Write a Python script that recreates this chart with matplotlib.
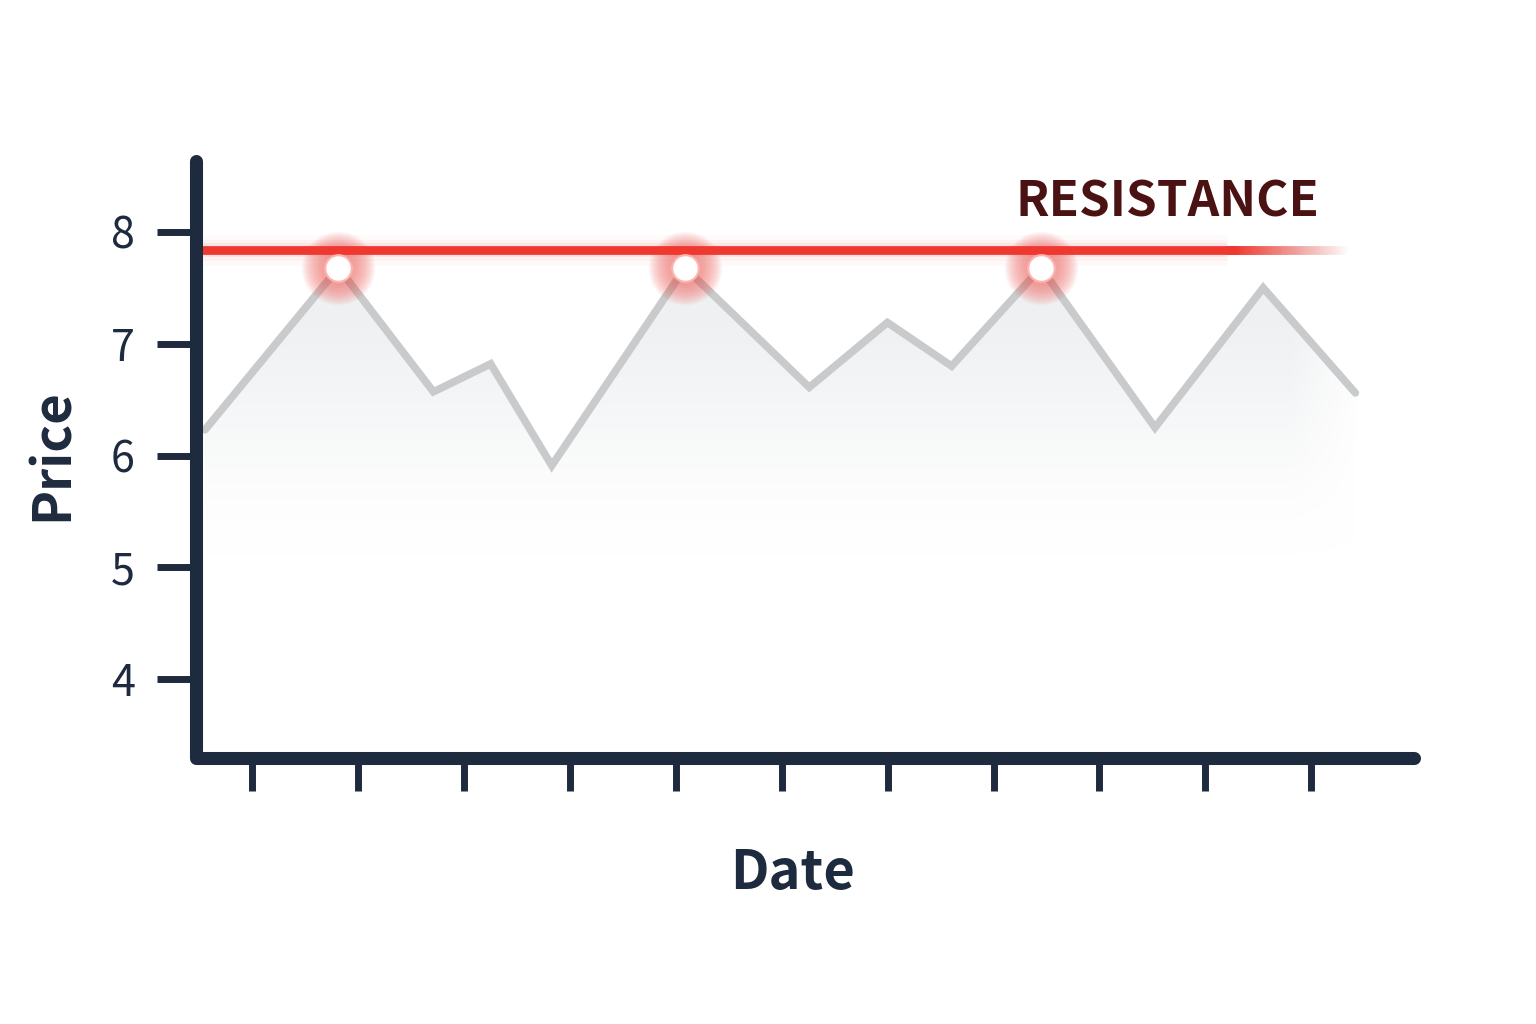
import matplotlib
matplotlib.use('Agg')
import numpy as np
import matplotlib.pyplot as plt

plt.rcParams['font.family'] = ['Noto Sans CJK SC', 'DejaVu Sans']

# data (x in tick units, ticks unlabeled)
dates = [0.555, 1.814, 2.712, 3.252, 3.829, 5.087, 6.260, 6.998, 7.604, 8.446, 9.524, 10.546, 11.416]
prices = [6.23, 7.68, 6.57, 6.82, 5.91, 7.68, 6.61, 7.19, 6.80, 7.68, 6.25, 7.50, 6.56]
peak_idx = [1, 5, 9]
resistance = 7.84
res_start, res_end, res_fade = 0.52, 11.34, 10.2
x_ticks = [1, 2, 3, 4, 5, 6, 7, 8, 9, 10, 11]
y_ticks = [4, 5, 6, 7, 8]

navy = '#1e2a3e'
red = '#ef3830'
grey = '#c9cacc'

fig = plt.figure(figsize=(15.36, 10.24), dpi=100)
ax = fig.add_axes([0.1276, 0.2593, 0.793, 0.5835])
ax.set_xlim(0.47, 11.97)
ax.set_ylim(3.29, 8.635)
for s in ax.spines.values():
    s.set_visible(False)

# axis lines with rounded ends
ax.plot([0, 0, 1], [1, 0, 0], transform=ax.transAxes, clip_on=False, lw=9.4,
        color=navy, solid_capstyle='round', solid_joinstyle='round', zorder=6)

ax.set_xticks(x_ticks)
ax.set_yticks(y_ticks)
ax.tick_params(axis='x', length=24, width=5, color=navy, labelbottom=False)
ax.tick_params(axis='y', length=28, width=5, color=navy, pad=16,
               labelsize=31, labelcolor=navy)

# gradient area under the price line
x = np.array(dates)
y = np.array(prices)
poly = ax.fill_between(x, y, 3.29, color='none', lw=0)
gx = np.linspace(x[0], x[-1], 400)
gy = np.linspace(3.29, 8.0, 300)
GX, GY = np.meshgrid(gx, gy)
t = np.clip((GY - 5.0) / 2.6, 0, 1)
a = (t * t * (3 - 2 * t)) * 0.85
a *= np.clip((x[-1] + 0.1 - GX) / 0.7, 0, 1)
img = np.zeros(GX.shape + (4,))
img[..., 0], img[..., 1], img[..., 2] = 0.925, 0.93, 0.94
img[..., 3] = a
im = ax.imshow(img, extent=(gx[0], gx[-1], gy[0], gy[-1]), origin='lower',
               aspect='auto', zorder=1, interpolation='bilinear')
im.set_clip_path(poly.get_paths()[0], transform=ax.transData)

ax.plot(x, y, color=grey, lw=5.5, solid_capstyle='round',
        solid_joinstyle='miter', zorder=2)

# resistance line: solid part, then a linearly fading tail from stacked strokes
n_tail = 40
for lw, al in [(22, 0.025), (15, 0.04), (10, 0.07), (6.3, 1.0)]:
    ax.plot([res_start, res_fade], [resistance, resistance], color=red, lw=lw,
            alpha=al, solid_capstyle='butt', zorder=3)
    # remaining transparency after strokes k..N must equal 1 - target(k)
    P = [1 - al * (n_tail - j + 1) / n_tail for j in range(1, n_tail + 2)]
    for k in range(1, n_tail + 1):
        ak = 1 - P[k - 1] / P[k]
        if ak <= 0:
            continue
        xe = res_fade + (res_end - res_fade) * k / n_tail
        ax.plot([res_fade, xe], [resistance, resistance], color=red, lw=lw,
                alpha=min(ak, 1.0), solid_capstyle='butt', zorder=3)

# glowing peak markers
px = [dates[i] for i in peak_idx]
py = [prices[i] for i in peak_idx]
for s in np.linspace(2800, 450, 14):
    ax.scatter(px, py, s=s, color=red, alpha=0.045, lw=0, zorder=4)
ax.scatter(px, py, s=430, color='#ffb3b0', lw=0, zorder=5)
ax.scatter(px, py, s=310, color='white', lw=0, zorder=5)

ax.text(9.64, 8.27, 'RESISTANCE', fontsize=35.5, fontweight='bold',
        color='#4a1212', ha='center', va='center')

ax.set_ylabel('Price', fontsize=38, fontweight='bold', color=navy)
ax.yaxis.set_label_coords(-0.118, 0.508)
ax.yaxis.label.set_va('center')
ax.set_xlabel('Date', fontsize=39, fontweight='bold', color=navy)
ax.xaxis.set_label_coords(0.490, -0.192)
ax.xaxis.label.set_va('center')

fig.savefig('out.png', dpi=100, facecolor='white')
